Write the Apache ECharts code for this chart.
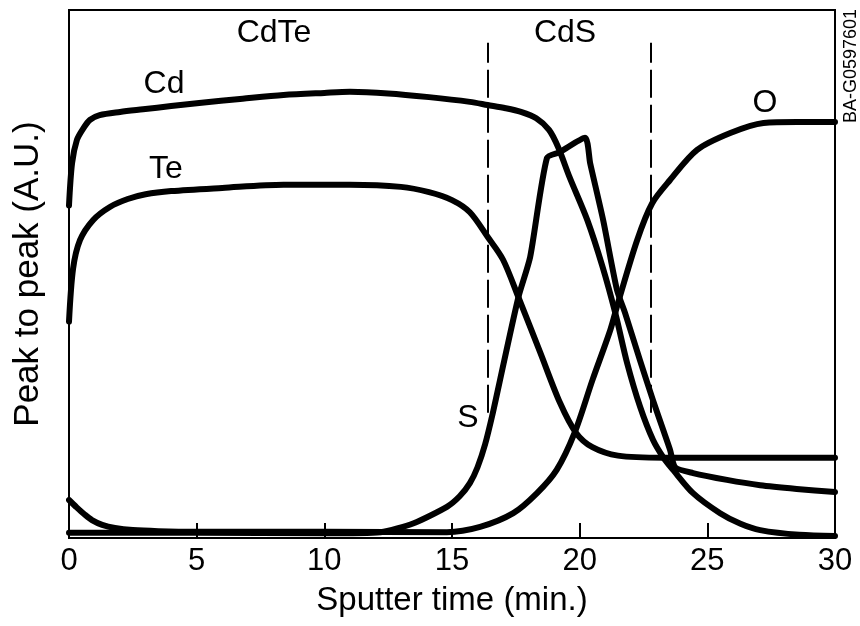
<!DOCTYPE html>
<html>
<head>
<meta charset="utf-8">
<script src="https://cdn.jsdelivr.net/npm/echarts@6/dist/echarts.min.js"></script>
<style>html,body{margin:0;padding:0;background:#fff;}#c{width:860px;height:626px;}</style>
</head>
<body>
<div id="c"></div>
<script>
// Sputter time ticks (min.)
var xTicks = [0, 5, 10, 15, 20, 25, 30];
// Series: [sputter time (min.), peak-to-peak (A.U., 0-100 scale)]
var cdData = [[0,63],[0.12,71],[0.31,75.4],[0.55,77.5],[0.82,79.2],[1.2,80.1],[2,80.7],[2.9,81.2],[4,81.8],[5.1,82.4],[6.8,83.2],[8.4,83.9],[10,84.3],[11,84.5],[12.5,84.2],[14.1,83.5],[15.7,82.6],[16.4,82.0],[17.1,81.4],[17.7,80.7],[18.3,79.5],[18.8,77.3],[19.15,74.1],[19.6,68.4],[20.3,60.2],[20.9,51.3],[21.4,42.5],[21.86,33.1],[22.37,24.8],[22.87,18.6],[23.27,15.3],[23.66,12.9],[24.44,8.5],[25.5,4.7],[26.3,2.7],[27.07,1.5],[28.6,0.6],[30,0.4]];
var teData = [[0,41],[0.16,51],[0.43,56.4],[0.94,60.2],[1.6,62.7],[2.3,64.2],[3,65.1],[4,65.7],[6,66.3],[8.4,66.9],[11,66.9],[13,66.5],[14.1,65.5],[15,64],[15.7,61.7],[16.4,57.0],[17,52.7],[17.6,45.6],[18.45,35.2],[19.23,25.6],[19.86,19.9],[20.5,17.2],[21.5,15.6],[23.3,15.2],[30,15.2]];
var sData = [[0,1.0],[5,1.0],[10,0.9],[12.2,1.1],[13.5,2.8],[14.8,5.9],[15.3,7.9],[15.7,10.4],[16.0,13.4],[16.3,17.8],[16.6,23.7],[16.88,29.9],[17.6,45.6],[18.06,53.2],[18.72,72.0],[19.23,73.1],[20.21,75.8],[20.41,71.0],[20.92,60.2],[21.46,47.0],[21.78,42.6],[22.36,33.7],[22.87,26.1],[23.27,20.5],[23.54,16.7],[23.74,13.4],[24.44,12.3],[25.77,11.0],[27.07,10.0],[28.5,9.3],[30,8.7]];
var oData = [[0,7.2],[0.3,5.8],[0.6,4.5],[0.9,3.4],[1.3,2.5],[1.8,1.9],[2.5,1.5],[3.5,1.3],[5,1.2],[10,1.2],[14.8,1.1],[16.1,2.1],[17.4,4.7],[18.33,8.5],[19.1,12.9],[19.8,19.9],[20.5,29.9],[21.2,39.4],[21.5,44.5],[22.25,56.4],[22.84,63.4],[23.54,67.8],[24.6,73.5],[25.9,76.7],[27.2,78.6],[28.5,78.8],[30,78.8]];
// Layer boundaries (dashed lines)
var boundaryX = [16.4, 22.8];
var boundaryY = [23.7, 93.8];

var FONT = '"Liberation Sans", Arial, Helvetica, sans-serif';
var chart = echarts.init(document.getElementById('c'));

function curve(name, data, smooth) {
  return {
    name: name, type: 'line', data: data, symbol: 'none', smooth: smooth,
    lineStyle: { color: '#000', width: 6, cap: 'round', join: 'round' },
    z: 3
  };
}

var series = [
  curve('Cd', cdData, 0.3),
  curve('Te', teData, 0.3),
  curve('S', sData, 0.22),
  curve('O', oData, 0.3),
  {
    type: 'line', data: [], symbol: 'none',
    markLine: {
      silent: true, symbol: 'none', label: { show: false },
      lineStyle: { color: '#000', width: 2, type: [28, 7] },
      data: boundaryX.map(function (x) {
        return [{ coord: [x, boundaryY[0]] }, { coord: [x, boundaryY[1]] }];
      })
    }
  }
];

chart.setOption({
  animation: false,
  backgroundColor: '#fff',
  grid: { left: 69, right: 25, top: 10, bottom: 88, show: true, borderColor: '#000', borderWidth: 2, backgroundColor: 'transparent' },
  xAxis: {
    type: 'value', min: 0, max: 30, interval: 5,
    name: 'Sputter time (min.)', nameLocation: 'middle', nameGap: 46,
    nameTextStyle: { fontFamily: FONT, fontSize: 33, color: '#000' },
    axisLine: { show: true, lineStyle: { color: '#000', width: 2 } },
    axisTick: { show: true, inside: true, length: 15, lineStyle: { color: '#000', width: 2 } },
    axisLabel: { fontFamily: FONT, fontSize: 31, color: '#000', margin: 8,
      formatter: function (v) { return xTicks.indexOf(v) >= 0 ? String(v) : ''; } },
    splitLine: { show: false }
  },
  yAxis: {
    type: 'value', min: 0, max: 100,
    name: 'Peak to peak (A.U.)', nameLocation: 'middle', nameGap: 23,
    nameTextStyle: { fontFamily: FONT, fontSize: 35, color: '#000' },
    axisLine: { show: true, lineStyle: { color: '#000', width: 2 } },
    axisTick: { show: false }, axisLabel: { show: false }, splitLine: { show: false }
  },
  graphic: [
    { type: 'text', x: 274, y: 33, style: { text: 'CdTe', font: '32px ' + FONT, fill: '#000', align: 'center', verticalAlign: 'middle' } },
    { type: 'text', x: 565, y: 33, style: { text: 'CdS', font: '32px ' + FONT, fill: '#000', align: 'center', verticalAlign: 'middle' } },
    { type: 'text', x: 164, y: 84, style: { text: 'Cd', font: '32px ' + FONT, fill: '#000', align: 'center', verticalAlign: 'middle' } },
    { type: 'text', x: 166, y: 169, style: { text: 'Te', font: '32px ' + FONT, fill: '#000', align: 'center', verticalAlign: 'middle' } },
    { type: 'text', x: 468, y: 418, style: { text: 'S', font: '32px ' + FONT, fill: '#000', align: 'center', verticalAlign: 'middle' } },
    { type: 'text', x: 765, y: 103, style: { text: 'O', font: '32px ' + FONT, fill: '#000', align: 'center', verticalAlign: 'middle' } },
    { type: 'text', x: 851, y: 66, rotation: Math.PI / 2, style: { text: 'BA-G0597601', font: '18px ' + FONT, fill: '#000', align: 'center', verticalAlign: 'middle' } }
  ],
  series: series
});
</script>
</body>
</html>
